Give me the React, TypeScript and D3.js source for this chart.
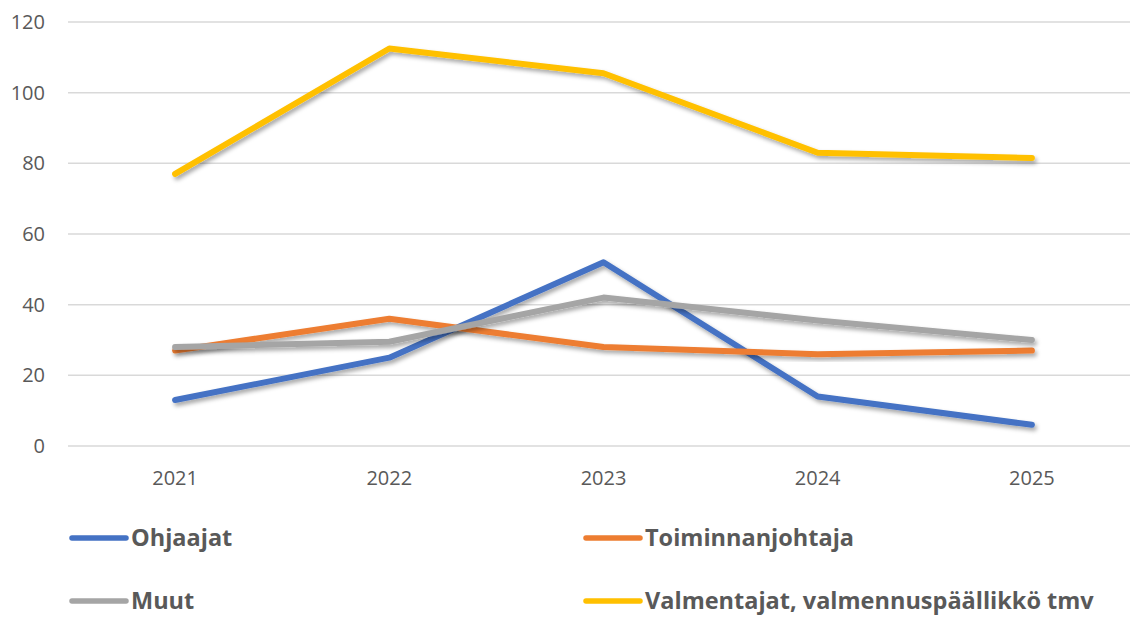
import React from 'react';
import { scaleBand, scaleLinear, line } from 'd3';

const years = ['2021', '2022', '2023', '2024', '2025'];
const yTicks = [0, 20, 40, 60, 80, 100, 120];

const ohjaajat = [13, 25, 52, 14, 6];
const toiminnanjohtaja = [27, 36, 28, 26, 27];
const muut = [28, 29.5, 42, 35.5, 30];
const valmentajat = [77, 112.5, 105.5, 83, 81.5];

const series = [
  { name: 'Ohjaajat', values: ohjaajat, color: '#4472C4' },
  { name: 'Toiminnanjohtaja', values: toiminnanjohtaja, color: '#ED7D31' },
  { name: 'Muut', values: muut, color: '#A5A5A5' },
  { name: 'Valmentajat, valmennuspäällikkö tmv', values: valmentajat, color: '#FFC000' },
];

const W = 1130;
const H = 617;

export default function App() {
  const x = scaleBand().domain(years).range([68, 1139]);
  const y = scaleLinear().domain([0, 120]).range([446, 22]);

  const makeLine = line<number>()
    .x((d, i) => x(years[i])! + x.bandwidth() / 2)
    .y((d) => y(d));

  // legend: two columns, two rows
  const legendPos = [
    { lx: 72, ly: 538 },
    { lx: 586, ly: 538 },
    { lx: 72, ly: 601 },
    { lx: 586, ly: 601 },
  ];

  return (
    <svg
      width={W}
      height={H}
      style={{ position: 'absolute', left: 0, top: 0, background: '#fff' }}
      fontFamily="'Open Sans', sans-serif"
    >
      <defs>
        <filter id="shadow" x="-10%" y="-10%" width="120%" height="130%">
          <feDropShadow dx="2" dy="3" stdDeviation="2" floodColor="#000" floodOpacity="0.35" />
        </filter>
      </defs>

      {yTicks.map((t) => (
        <g key={t}>
          <line x1={68} x2={1148} y1={y(t)} y2={y(t)} stroke="#d9d9d9" strokeWidth={1.5} />
          <text x={45} y={y(t)} dy="0.35em" textAnchor="end" fontSize={20} fill="#595959">
            {t}
          </text>
        </g>
      ))}

      {years.map((yr) => (
        <text
          key={yr}
          x={x(yr)! + x.bandwidth() / 2}
          y={478}
          dy="0.35em"
          textAnchor="middle"
          fontSize={20}
          fill="#595959"
        >
          {yr}
        </text>
      ))}

      {series.map((s) => (
        <path
          key={s.name}
          d={makeLine(s.values)!}
          fill="none"
          stroke={s.color}
          strokeWidth={6}
          strokeLinecap="round"
          strokeLinejoin="round"
          filter="url(#shadow)"
        />
      ))}

      {series.map((s, i) => (
        <g key={s.name} transform={`translate(${legendPos[i].lx},${legendPos[i].ly})`}>
          <line x1={0} x2={54} y1={0} y2={0} stroke={s.color} strokeWidth={5.5} strokeLinecap="round" />
          <text x={59} y={0} dy="0.35em" fontSize={23.5} fontWeight={700} fill="#595959">
            {s.name}
          </text>
        </g>
      ))}
    </svg>
  );
}
